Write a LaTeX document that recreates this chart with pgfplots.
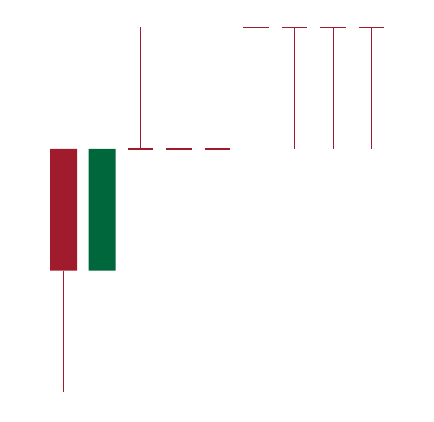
\documentclass[border=0pt]{standalone}
\usepackage{pgfplots}
\pgfplotsset{compat=1.18}
\definecolor{cred}{RGB}{160,27,43}
\definecolor{cgreen}{RGB}{0,102,60}
\begin{document}
\begin{tikzpicture}
\begin{axis}[
  width=434pt, height=422pt, scale only axis,
  xmin=-1.65, xmax=9.62, ymin=-0.245, ymax=3.225,
  axis line style={draw=none}, xtick=\empty, ytick=\empty,
  clip=false,
]
% candle 0: bearish O=2 H=2 L=0 C=1
\addplot[cred, line width=1.2pt] coordinates {(0,0) (0,1)};
\addplot[fill=cred, draw=none] coordinates {(-0.35,1) (0.35,1) (0.35,2) (-0.35,2) (-0.35,1)};
% candle 1: bullish O=1 H=2 L=1 C=2
\addplot[fill=cgreen, draw=none] coordinates {(0.65,1) (1.35,1) (1.35,2) (0.65,2) (0.65,1)};
% candle 2: O=C=2 H=3 L=2
\addplot[cred, line width=1.2pt] coordinates {(2,2) (2,3)};
\addplot[cred, line width=1.2pt] coordinates {(1.67,2) (2.33,2)};
% candles 3,4: O=H=L=C=2
\addplot[cred, line width=1.2pt] coordinates {(2.67,2) (3.33,2)};
\addplot[cred, line width=1.2pt] coordinates {(3.67,2) (4.33,2)};
% candle 5: O=H=L=C=3
\addplot[cred, line width=1.2pt] coordinates {(4.67,3) (5.33,3)};
% candles 6,7,8: O=C=H=3 L=2
\addplot[cred, line width=1.2pt] coordinates {(6,2) (6,3)};
\addplot[cred, line width=1.2pt] coordinates {(5.67,3) (6.33,3)};
\addplot[cred, line width=1.2pt] coordinates {(7,2) (7,3)};
\addplot[cred, line width=1.2pt] coordinates {(6.67,3) (7.33,3)};
\addplot[cred, line width=1.2pt] coordinates {(8,2) (8,3)};
\addplot[cred, line width=1.2pt] coordinates {(7.67,3) (8.33,3)};
\end{axis}
\end{tikzpicture}
\end{document}
